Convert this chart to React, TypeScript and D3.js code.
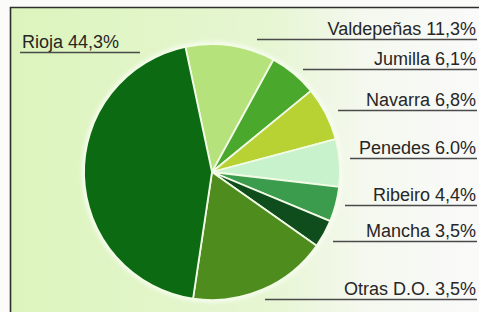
import { useEffect, useRef } from 'react';
import * as d3 from 'd3';

// slices in drawing order (clockwise, starting just left of 12 o'clock)
const regions = ['Valdepeñas', 'Jumilla', 'Navarra', 'Penedes', 'Ribeiro', 'Mancha', 'Otras D.O.', 'Rioja'];
// slice sizes as drawn in the picture
const shares = [11.3, 6.1, 6.8, 6.0, 4.4, 3.5, 17.6, 44.3];
// percentage text printed next to each region
const labelPct = ['11,3%', '6,1%', '6,8%', '6.0%', '4,4%', '3,5%', '3,5%', '44,3%'];
const sliceColors = ['#b6e27c', '#4aa82c', '#b8d234', '#c8f2cc', '#3c9c4e', '#0f4d1d', '#4e8c1e', '#0b6a12'];

// label layout (baseline y and left end of the rule under the text)
const labelBaseline = [35, 65, 106, 154, 201, 237, 295, 48];
const ruleStart = [257, 303, 338, 350, 345, 333, 265, 20];

const W = 479;
const H = 312;
const cx = 212;
const cy = 172;
const R = 128;

const App = () => {
  const svgRef = useRef<SVGSVGElement>(null);

  useEffect(() => {
    const svg = d3.select(svgRef.current);
    svg.selectAll('*').remove();

    const defs = svg.append('defs');
    const grad = defs
      .append('linearGradient')
      .attr('id', 'bg')
      .attr('x1', '0')
      .attr('x2', '1')
      .attr('y1', '0')
      .attr('y2', '0');
    grad.append('stop').attr('offset', '0').attr('stop-color', '#dcf4bc');
    grad.append('stop').attr('offset', '0.55').attr('stop-color', '#e6f6d2');
    grad.append('stop').attr('offset', '0.75').attr('stop-color', '#f4f8ee');
    grad.append('stop').attr('offset', '1').attr('stop-color', '#fafafa');

    const blur = defs.append('filter').attr('id', 'glow');
    blur.append('feGaussianBlur').attr('stdDeviation', 2);

    svg.append('rect').attr('width', W).attr('height', H).attr('fill', '#fbfbf9');
    svg
      .append('rect')
      .attr('x', 10)
      .attr('y', 7)
      .attr('width', W - 10)
      .attr('height', H - 7)
      .attr('fill', 'url(#bg)');

    // frame: top and left edges only
    svg
      .append('path')
      .attr('d', `M10.5,${H} V7.5 H${W}`)
      .attr('fill', 'none')
      .attr('stroke', '#2e2e2e')
      .attr('stroke-width', 1.6);

    const g = svg.append('g').attr('transform', `translate(${cx},${cy})`);

    g.append('circle')
      .attr('r', R + 2)
      .attr('fill', '#ffffff')
      .attr('opacity', 0.8)
      .attr('filter', 'url(#glow)');

    const start = (-12 * Math.PI) / 180;
    const pie = d3
      .pie<number>()
      .sort(null)
      .value((d) => d)
      .startAngle(start)
      .endAngle(start + 2 * Math.PI);

    const arc = d3.arc<d3.PieArcDatum<number>>().innerRadius(0).outerRadius(R);

    g.selectAll('.slice')
      .data(pie(shares))
      .join('path')
      .attr('class', 'slice')
      .attr('d', arc)
      .attr('fill', (_, i) => sliceColors[i])
      .attr('stroke', '#f2fbe6')
      .attr('stroke-width', 1.8)
      .attr('stroke-linejoin', 'round');

    const labels = svg
      .selectAll('.label')
      .data(regions)
      .join('g')
      .attr('class', 'label');

    labels
      .append('line')
      .attr('x1', (_, i) => ruleStart[i])
      .attr('x2', (d) => (d === 'Rioja' ? 140 : 477))
      .attr('y1', (_, i) => labelBaseline[i] + 4.5)
      .attr('y2', (_, i) => labelBaseline[i] + 4.5)
      .attr('stroke', '#4a4a4a')
      .attr('stroke-width', 1.5);

    labels
      .append('text')
      .attr('x', (d) => (d === 'Rioja' ? 22 : 476))
      .attr('y', (_, i) => labelBaseline[i])
      .attr('text-anchor', (d) => (d === 'Rioja' ? 'start' : 'end'))
      .attr('font-family', '"Liberation Sans", Arial, sans-serif')
      .attr('font-size', 18)
      .attr('fill', '#262626')
      .text((d, i) => `${d} ${labelPct[i]}`);
  }, []);

  return (
    <svg
      ref={svgRef}
      width={W}
      height={H}
      style={{ position: 'absolute', left: 0, top: 0, display: 'block' }}
    />
  );
};

export default App;
